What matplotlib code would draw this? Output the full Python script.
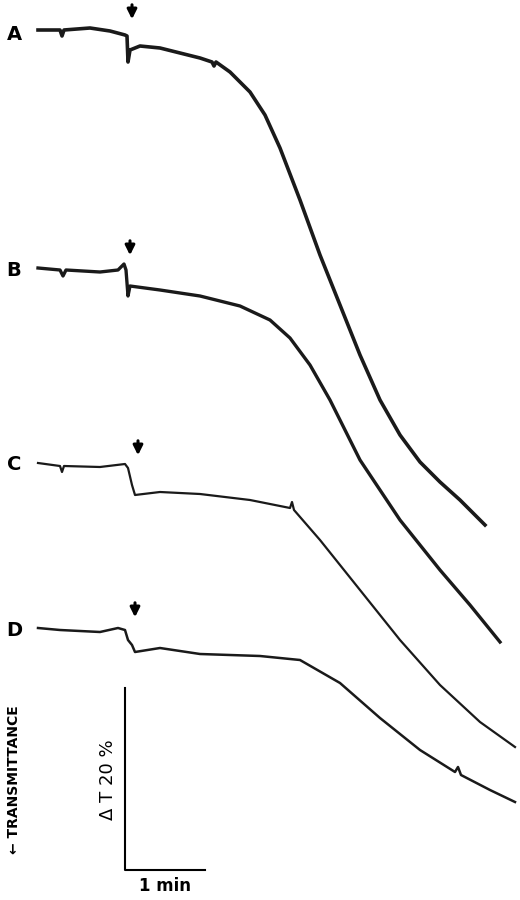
import matplotlib
matplotlib.use("Agg")
import matplotlib.pyplot as plt

# trace coordinates (x: time px, y: signal px, downward)
a_x = [38,60,62,64,90,110,125,127,128,130,140,160,180,200,212,214,216,230,250,265,280,300,320,340,360,380,400,420,440,460,475,485]
a_y = [30,30,36,30,28,31,35,36,62,50,46,48,53,58,62,66,62,72,92,115,148,200,255,305,355,400,435,462,482,500,515,525]
b_x = [38,60,63,66,100,118,124,126,128,130,160,200,240,270,290,310,330,360,400,440,470,500]
b_y = [268,270,276,270,272,270,264,270,296,286,290,296,306,320,338,365,400,460,520,570,605,642]
c_x = [38,60,62,64,100,125,128,132,135,160,200,250,290,292,294,320,360,400,440,480,515]
c_y = [463,466,472,466,467,464,468,485,495,492,494,500,508,502,510,540,590,640,685,722,747]
d_x = [38,60,100,118,125,128,132,135,160,200,260,300,340,380,420,455,458,461,490,515]
d_y = [628,630,632,628,630,640,645,652,648,654,656,660,683,718,750,772,767,775,790,802]
labels = ["A", "B", "C", "D"]
label_y = [35, 270, 465, 630]
arrow_x = [132, 130, 138, 135]
arrow_y = [22, 258, 458, 620]

fig = plt.figure(figsize=(5.2, 9), dpi=100)
ax = fig.add_axes([0, 0, 1, 1])
ax.set_xlim(0, 520)
ax.set_ylim(900, 0)
ax.axis("off")

traces = [(a_x, a_y, 2.6), (b_x, b_y, 2.4), (c_x, c_y, 1.6), (d_x, d_y, 1.8)]
for (xs, ys, lw) in traces:
    ax.plot(xs, ys, color="#1a1a1a", lw=lw, solid_joinstyle="round")

for lab, ly in zip(labels, label_y):
    ax.text(14, ly, lab, fontsize=14, fontweight="bold", ha="center", va="center")
for axx, ayy in zip(arrow_x, arrow_y):
    ax.annotate("", xy=(axx, ayy), xytext=(axx, ayy - 20),
                arrowprops=dict(arrowstyle="-|>", color="black", lw=2.2, mutation_scale=14))

ax.plot([125, 125, 205], [688, 870, 870], color="black", lw=1.5)
ax.text(165, 886, "1 min", fontsize=12, fontweight="bold", ha="center", va="center")
ax.text(108, 780, "Δ T 20 %", fontsize=13, rotation=90, ha="center", va="center")
ax.text(14, 780, "← TRANSMITTANCE", fontsize=10, fontweight="bold", rotation=90, ha="center", va="center")

fig.savefig("out.png", dpi=100, facecolor="white")
